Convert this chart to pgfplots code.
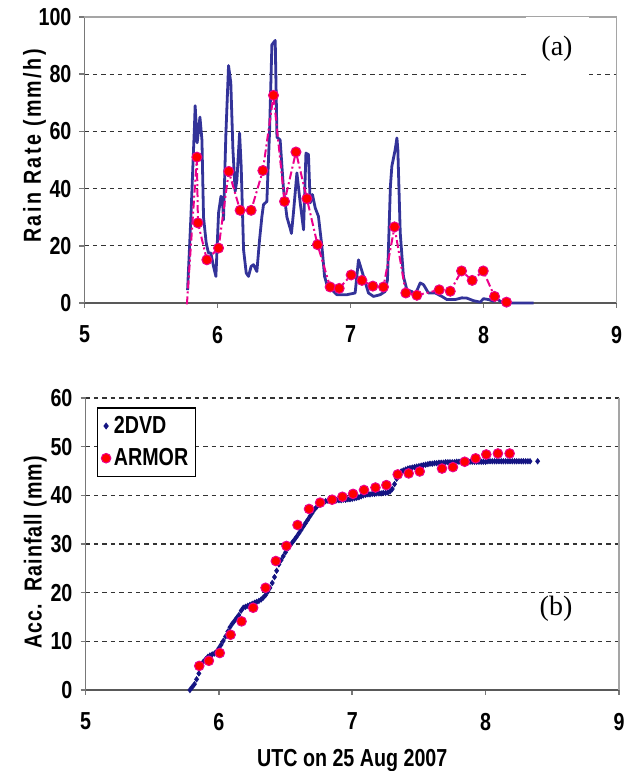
\documentclass[border=0pt]{standalone}
\usepackage{fontspec}
\setmainfont{Liberation Sans}[FakeStretch=0.8]
\newfontfamily\tnr{Liberation Serif}
\usepackage{pgfplots}
\usepackage{pgfplotstable}
\pgfplotsset{compat=1.18}

\definecolor{dvdline}{RGB}{51,51,153}
\definecolor{dvdmark}{RGB}{20,20,130}
\definecolor{axgray}{RGB}{120,120,120}
\definecolor{boxgray}{RGB}{165,165,165}

% rain rate, 2DVD (mm/h)
\pgfplotstableread{
x y
5.775 4.5
5.800 30
5.815 48
5.827 62
5.832 69
5.847 56
5.868 65
5.883 57
5.895 30
5.915 21
5.932 17.5
5.950 17.5
5.970 12.8
5.988 9.3
6.008 31.5
6.026 37.3
6.038 36
6.045 29
6.063 59
6.083 83
6.100 77
6.116 53.6
6.133 39
6.146 43
6.166 59.4
6.178 47.8
6.196 18.6
6.216 10.5
6.233 9.3
6.253 12.8
6.271 13.4
6.296 11
6.316 22
6.334 30.3
6.346 34.4
6.371 35.5
6.391 59.4
6.409 90.3
6.434 91.8
6.447 58
6.471 57
6.496 40
6.522 30
6.547 26
6.556 24.3
6.571 31.5
6.597 45.5
6.622 35
6.647 25.6
6.665 52.4
6.684 51.9
6.697 35
6.714 37.9
6.735 33.2
6.759 30.3
6.785 19.8
6.805 9.3
6.823 6.4
6.860 4.6
6.898 2.9
6.973 2.9
7.035 3.5
7.060 15.1
7.098 9.3
7.135 3.5
7.173 2.3
7.223 2.9
7.260 4.0
7.278 8.1
7.300 40.8
7.311 47.8
7.336 53.6
7.349 57.7
7.356 53.6
7.374 24.5
7.398 9.3
7.424 4.6
7.462 4.0
7.486 2.9
7.524 7.0
7.549 6.4
7.586 3.5
7.637 3.5
7.687 2.3
7.725 1.2
7.787 1.2
7.837 1.8
7.875 1.7
7.925 0.8
7.975 0.3
8.000 1.5
8.038 1.2
8.075 0.6
8.100 1.4
8.138 0.3
8.200 0
8.376 0
}\ratedvd

% rain rate, ARMOR (mm/h)
\pgfplotstableread{
x y
5.845 51.0
5.853 28.0
5.920 15.1
6.008 19.2
6.085 46.0
6.170 32.4
6.253 32.4
6.341 46.3
6.421 72.6
6.504 35.5
6.590 52.8
6.672 36.5
6.752 20.4
6.847 5.6
6.915 5.1
7.005 9.8
7.086 7.9
7.168 5.9
7.248 5.6
7.331 26.6
7.416 3.5
7.499 2.7
7.667 4.6
7.750 4.1
7.835 11.2
7.915 7.9
7.998 11.2
8.083 2.3
8.173 0.3
}\ratearmor

% accumulated rainfall, 2DVD (mm), one value a minute
\pgfplotstableread{
x y
5.783 0
5.800 0.6
5.817 1.2
5.833 2.2
5.850 3.4
5.867 4.8
5.883 5.8
5.900 6.3
5.917 6.8
5.933 7.1
5.950 7.3
5.967 7.5
5.983 7.9
6.000 8.6
6.017 9.3
6.033 10.1
6.050 11.0
6.067 12.0
6.083 12.9
6.100 13.6
6.117 14.2
6.133 14.8
6.150 15.4
6.167 16.3
6.183 16.9
6.200 17.1
6.217 17.3
6.233 17.5
6.250 17.7
6.267 17.9
6.283 18.1
6.300 18.3
6.317 18.6
6.333 19.0
6.350 19.5
6.367 20.2
6.383 21.0
6.400 22.0
6.417 23.2
6.433 24.5
6.450 25.8
6.467 26.7
6.483 27.5
6.500 28.3
6.517 29.1
6.533 29.7
6.550 30.3
6.567 30.9
6.583 31.5
6.600 32.2
6.617 32.9
6.633 33.6
6.650 34.3
6.667 35.0
6.683 35.7
6.700 36.4
6.717 37.1
6.733 37.6
6.750 38.1
6.767 38.4
6.783 38.6
6.800 38.8
6.817 38.9
6.833 39.0
6.850 39.0
6.867 39.0
6.883 39.0
6.900 39.0
6.917 39.0
6.933 39.1
6.950 39.1
6.967 39.2
6.983 39.2
7.000 39.3
7.017 39.4
7.033 39.5
7.050 39.6
7.067 39.8
7.083 40.0
7.100 40.1
7.117 40.2
7.133 40.2
7.150 40.3
7.167 40.3
7.183 40.4
7.200 40.4
7.217 40.4
7.233 40.5
7.250 40.5
7.267 40.6
7.283 40.8
7.300 41.3
7.317 42.3
7.333 43.4
7.350 44.4
7.367 44.9
7.383 45.1
7.400 45.3
7.417 45.5
7.433 45.6
7.450 45.7
7.467 45.8
7.483 45.9
7.500 46.0
7.517 46.1
7.533 46.2
7.550 46.3
7.567 46.4
7.583 46.5
7.600 46.5
7.617 46.6
7.633 46.6
7.650 46.7
7.667 46.7
7.683 46.7
7.700 46.8
7.717 46.8
7.733 46.8
7.750 46.8
7.767 46.8
7.783 46.9
7.800 46.9
7.817 46.9
7.833 46.9
7.850 46.9
7.867 46.9
7.883 46.9
7.900 46.9
7.917 46.9
7.933 46.9
7.950 46.9
7.967 46.9
7.983 46.9
8.000 46.9
8.017 47.0
8.033 47.0
8.050 47.0
8.067 47.0
8.083 47.0
8.100 47.0
8.117 47.0
8.133 47.0
8.150 47.0
8.167 47.0
8.183 47.0
8.200 47.0
8.217 47.0
8.233 47.0
8.250 47.0
8.267 47.0
8.283 47.0
8.300 47.0
8.317 47.0
8.333 47.0
8.390 47.0
}\accdvd

% accumulated rainfall, ARMOR (mm)
\pgfplotstableread{
x y
5.853 4.95
5.925 6.0
6.007 7.6
6.088 11.35
6.170 14.1
6.257 16.9
6.350 21.0
6.427 26.5
6.507 29.6
6.590 33.9
6.676 37.2
6.759 38.5
6.849 39.1
6.926 39.7
7.006 40.3
7.088 41.1
7.174 41.6
7.256 42.1
7.341 44.3
7.423 44.5
7.506 44.9
7.673 45.5
7.755 45.8
7.843 46.9
7.925 47.6
8.005 48.4
8.092 48.6
8.180 48.6
}\accarmor

\newcommand\chartfont{\fontsize{12.3}{14}\selectfont\bfseries}

\pgfplotsset{
  panel/.style={
    scale only axis,
    xmin=5, xmax=9,
    xtick={5,6,7,8,9},
    axis lines=left,
    axis line style={-, axgray, line width=0.8pt},
    x axis line style={line width=1.1pt, black!65},
    tick align=outside,
    major tick length=2.5pt,
    tick style={axgray, line width=0.8pt},
    ymajorgrids,
    major grid style={black!80, line width=0.55pt, dash pattern=on 2.2pt off 2pt},
    /pgf/number format/assume math mode=true,
    ticklabel style={font=\chartfont},
    every axis x label/.style={at={(axis description cs:0.5,0)}, anchor=center, yshift=-35.5pt,
      font=\chartfont},
    x tick label style={yshift=-5.5pt},
    y tick label style={xshift=-0.5pt},
  },
  armor/.style={only marks, mark=*, mark size=2.4pt,
    mark options={fill=red, draw=magenta, line width=0.5pt, solid}},
}

\begin{document}
\begin{tikzpicture}
\useasboundingbox (0,0) rectangle (312pt,385.5pt);

% (a) rain rate
\begin{axis}[panel,
  at={(42.25pt,234pt)}, anchor=south west,
  width=266pt, height=143pt,
  ymin=0, ymax=100, ytick={0,20,...,100},
  every axis y label/.style={at={(axis description cs:-0.094,0.549)}, rotate=90, anchor=center,
    font=\chartfont},
  ylabel={\addfontfeature{LetterSpace=10}Rain Rate (mm/h)},
  clip=false,
]
\draw[boxgray, line width=0.8pt] (rel axis cs:0,1) -- (rel axis cs:1,1) -- (rel axis cs:1,0);
\addplot[dvdline, line width=1.4pt, line join=round] table {\ratedvd};
\addplot[magenta, line width=1pt, dash pattern=on 4pt off 1.5pt on 1pt off 1.5pt]
  coordinates {(5.770,-0.5) (5.845,51.0)};
\addplot[magenta, line width=1pt, dash pattern=on 4pt off 1.5pt on 1pt off 1.5pt,
  mark=*, mark size=2.5pt, mark options={fill=red, draw=magenta, line width=0.5pt, solid}]
  table {\ratearmor};
\end{axis}

% (b) accumulated rainfall
\begin{axis}[panel,
  at={(42.75pt,40.5pt)}, anchor=south west,
  width=266.75pt, height=146pt,
  ymin=0, ymax=60, ytick={0,10,...,60},
  every axis y label/.style={at={(axis description cs:-0.094,0.471)}, rotate=90, anchor=center,
    font=\chartfont},
  ylabel={\addfontfeature{LetterSpace=4}Acc.\ \ Rainfall (mm)},
  xlabel={UTC on 25 Aug 2007},
  clip=false,
  legend style={at={(0.021,0.968)}, anchor=north west, draw=black, fill=white,
    line width=0.6pt, inner xsep=2pt, inner ysep=2.5pt,
    font=\chartfont,
    nodes={inner sep=1.5pt}, row sep=3pt},
  legend image code/.code={%
    \draw[mark repeat=2, mark phase=2, #1] plot coordinates {(0pt,0pt) (2.5pt,0pt) (5pt,0pt)};},
  legend cell align=left,
]
\draw[boxgray, line width=0.8pt] (rel axis cs:1,1) -- (rel axis cs:1,0);
\addplot[only marks, mark=diamond*, mark size=1.3pt, dvdmark] table {\accdvd};
\addlegendentry{2DVD}
\addplot[armor] table {\accarmor};
\addlegendentry{ARMOR}
\end{axis}

\node[fill=white, minimum width=31.5pt, minimum height=32pt, inner sep=0pt,
  font=\tnr\fontsize{14}{15}\selectfont] at (278.5pt,361pt) {(a)};
\node[fill=white, inner sep=1pt,
  font=\tnr\fontsize{14}{15}\selectfont] at (278pt,81pt) {(b)};
\end{tikzpicture}
\end{document}
